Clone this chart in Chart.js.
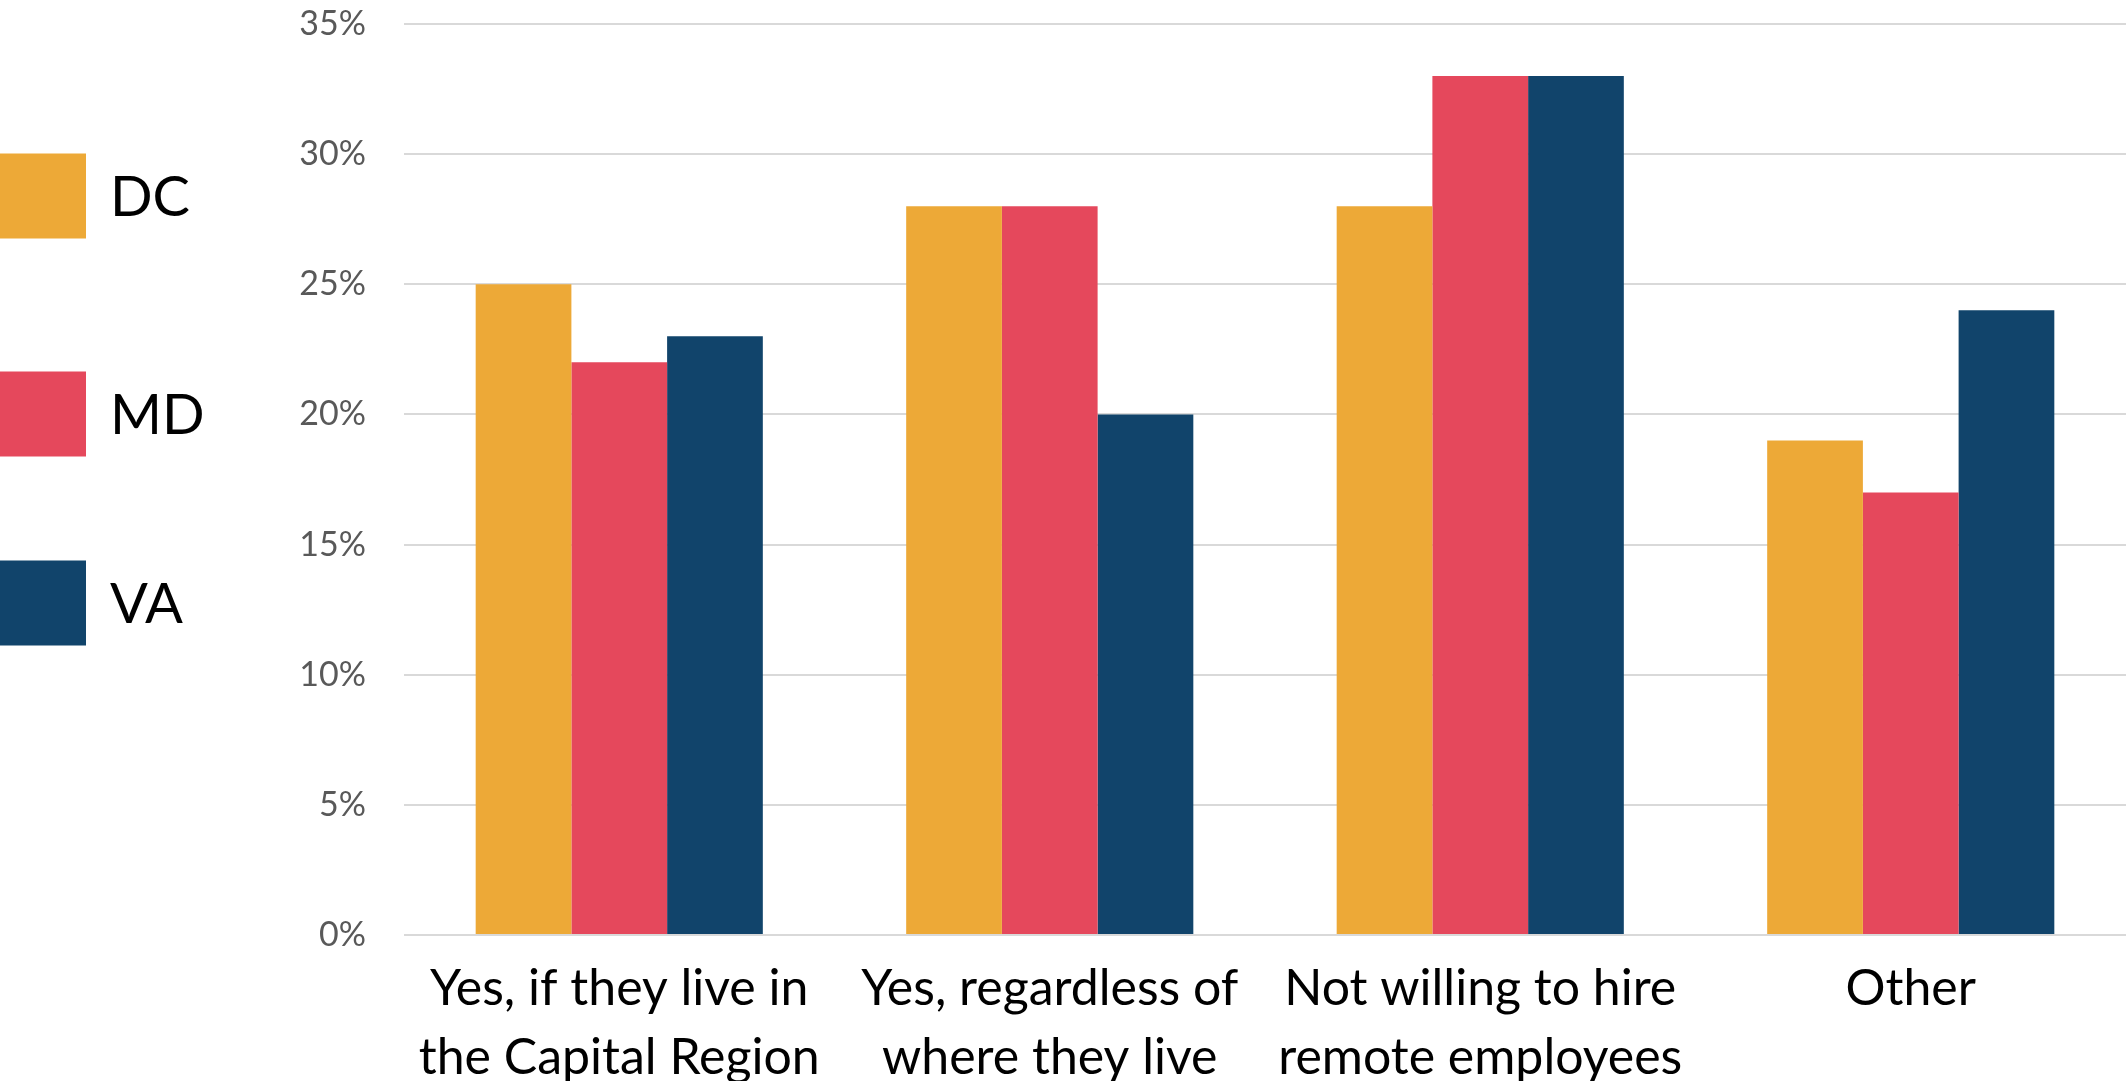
<!DOCTYPE html>
<html>
<head>
<meta charset="utf-8">
<script src="https://cdn.jsdelivr.net/npm/chart.js"></script>
<style>
  html, body { margin: 0; padding: 0; background: #ffffff; }
  #wrap { width: 2126px; height: 1081px; position: relative; }
</style>
</head>
<body>
<div id="wrap"><canvas id="chart"></canvas></div>
<script>
// データ
const categories = [
    ["Yes, if they live in", "the Capital Region"],
    ["Yes, regardless of", "where they live"],
    ["Not willing to hire", "remote employees"],
    ["Other"]
];
const seriesNames = ["DC", "MD", "VA"];
const dcValues = [25, 28, 28, 19];
const mdValues = [22, 28, 33, 17];
const vaValues = [23, 20, 33, 24];
const yTicks = [0, 5, 10, 15, 20, 25, 30, 35];

const colors = ['#EDA937', '#E5485C', '#11446B'];

// 左側の凡例（四角＋ラベル）を描くプラグイン
const sideLegend = {
    id: 'sideLegend',
    afterDraw(chart, args, opts) {
        const ctx = chart.ctx;
        ctx.save();
        ctx.font = opts.font;
        ctx.textBaseline = 'middle';
        chart.data.datasets.forEach((ds, i) => {
            const cy = opts.centers[i];
            ctx.fillStyle = ds.backgroundColor;
            ctx.fillRect(opts.boxX, cy - opts.boxH / 2, opts.boxW, opts.boxH);
            ctx.fillStyle = '#000';
            ctx.fillText(ds.label, opts.textX, cy + 2);
        });
        ctx.restore();
    }
};

const ctx = document.getElementById('chart').getContext('2d');
new Chart(ctx, {
    type: 'bar',
    data: {
        labels: categories,
        datasets: [
            { label: seriesNames[0], data: dcValues, backgroundColor: colors[0] },
            { label: seriesNames[1], data: mdValues, backgroundColor: colors[1] },
            { label: seriesNames[2], data: vaValues, backgroundColor: colors[2] }
        ]
    },
    options: {
        responsive: true,
        maintainAspectRatio: false,
        animation: false,
        layout: { padding: { left: 300, top: 24, right: 0, bottom: 0 } },
        datasets: {
            bar: { categoryPercentage: 0.667, barPercentage: 1.0, borderWidth: 0 }
        },
        plugins: {
            legend: { display: false },
            tooltip: { enabled: false },
            sideLegend: {
                centers: [196, 414, 603],
                boxX: 0, boxW: 86, boxH: 85,
                textX: 110,
                font: '56px Lato'
            }
        },
        scales: {
            x: {
                grid: { display: false },
                border: { display: false },
                ticks: {
                    color: '#000',
                    font: { family: 'Lato', size: 50, lineHeight: 1.38 },
                    padding: 11,
                    maxRotation: 0,
                    autoSkip: false
                },
                afterFit(scale) { scale.height = 146; }
            },
            y: {
                min: 0,
                max: 35,
                afterBuildTicks(scale) {
                    scale.ticks = yTicks.map(v => ({ value: v }));
                },
                // 目盛り線は透明にしてラベルとの間隔だけ確保
                grid: { color: '#d9d9d9', lineWidth: 2, drawTicks: true, tickLength: 38, tickColor: 'rgba(0,0,0,0)' },
                border: { display: false },
                ticks: {
                    color: '#595959',
                    font: { family: 'Lato', size: 34 },
                    padding: 0,
                    callback: v => v + '%'
                },
                afterFit(scale) { scale.width = 104; }
            }
        }
    },
    plugins: [sideLegend]
});
</script>
</body>
</html>
